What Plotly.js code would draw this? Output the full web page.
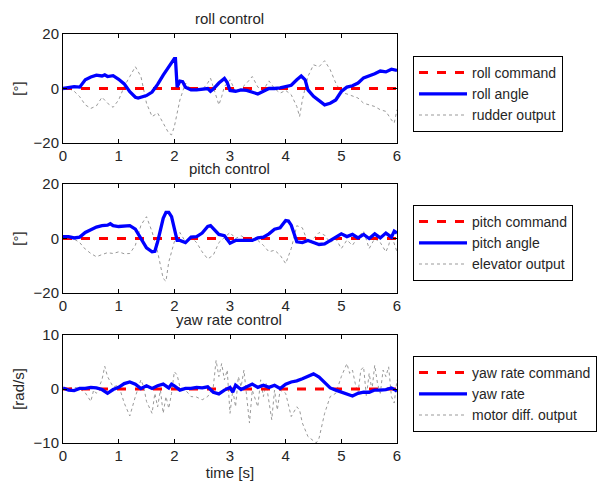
<!DOCTYPE html>
<html><head><meta charset="utf-8">
<script src="https://cdn.plot.ly/plotly-3.0.1.min.js"></script>
<style>html,body{margin:0;padding:0;background:#fff}#chart{width:606px;height:485px}</style>
</head><body><div id="chart"></div>
<script>
// ---- data ----
const xTicks = [0,1,2,3,4,5,6];

const rollCmdX = [0,6];
const rollCmdY = [0,0];
const rollAngleX = [0,0.1,0.2,0.3,0.35,0.4,0.5,0.6,0.7,0.75,0.8,0.9,1.0,1.1,1.2,1.3,1.35,1.4,1.5,1.6,1.7,1.8,1.9,2.0,2.02,2.05,2.1,2.15,2.2,2.3,2.4,2.5,2.6,2.65,2.7,2.8,2.9,2.95,3.0,3.1,3.2,3.3,3.4,3.5,3.6,3.7,3.8,3.9,4.0,4.1,4.2,4.28,4.35,4.4,4.5,4.6,4.7,4.8,4.9,5.0,5.1,5.2,5.3,5.4,5.5,5.6,5.7,5.8,5.9,6.0];
const rollAngleY = [0,0.5,0.7,0.5,2,3.2,4.2,4.9,4.6,5,4.4,4.7,3.4,1.7,-1.2,-3.2,-3.5,-3.2,-2.6,-1.3,1.5,4.9,8,11,11,0.5,2.7,2.5,0.5,-0.5,-0.5,-0.2,0,-1,-0.2,2,3.7,2.2,-0.7,-1,-0.5,-0.7,-1.2,-2,-1,0,0,0.2,0.7,1.2,3.2,4.6,3.2,-0.5,-2.9,-4.4,-6,-5.4,-4.2,-1.1,0.5,1,2,3.9,4.6,5.4,6.4,6.1,7.1,6.6];
const rudderX = [0,0.1,0.2,0.3,0.4,0.5,0.6,0.7,0.8,0.9,1.0,1.1,1.2,1.3,1.4,1.5,1.6,1.7,1.8,1.9,1.95,2.0,2.1,2.2,2.3,2.4,2.5,2.6,2.65,2.7,2.8,2.85,2.9,3.0,3.1,3.2,3.3,3.4,3.5,3.6,3.7,3.8,3.9,4.0,4.1,4.2,4.25,4.3,4.4,4.5,4.6,4.7,4.8,4.9,5.0,5.1,5.2,5.3,5.4,5.5,5.6,5.7,5.8,5.9,5.95,6.0];
const rudderY = [0,0,-1,-3,-6,-7.3,-6.4,-3.2,-5.4,-6.9,-4.2,0.7,4.4,8,4.4,-5.4,-10.3,-9,-12.7,-16.4,-17,-14,-4.2,2,-0.2,0.5,-0.5,2,3.8,0.7,-6,-3,0.7,3.2,-1.1,0,2,4.4,0.5,-0.5,2.8,0,-1.7,-0.7,-2.3,-6.6,-10.3,-4.2,4.4,8.7,8,10.2,6.9,2,-1.5,-2,-2.9,-3.5,-5.4,-6,-6.6,-7.8,-8.4,-11.5,-12.7,-7.8];

const pitchCmdX = [0,6];
const pitchCmdY = [0,0];
const pitchAngleX = [0,0.1,0.2,0.3,0.4,0.5,0.6,0.7,0.8,0.85,0.9,1.0,1.1,1.2,1.3,1.4,1.5,1.6,1.65,1.7,1.8,1.85,1.9,1.95,2.0,2.05,2.1,2.2,2.3,2.4,2.5,2.6,2.65,2.7,2.8,2.9,3.0,3.1,3.2,3.3,3.4,3.5,3.6,3.7,3.8,3.9,4.0,4.05,4.1,4.2,4.3,4.4,4.5,4.6,4.7,4.8,4.9,5.0,5.1,5.2,5.3,5.4,5.5,5.6,5.7,5.8,5.9,5.95,6.0];
const pitchAngleY = [0.7,0.7,0.2,0.5,2.2,3.2,4.2,4.7,4.9,5.4,4.7,4.4,4.4,4.7,3.4,0,-3.4,-4.9,-4.7,-1.2,7.4,9.6,9.6,8,3.9,-0.7,-0.7,-1.5,0.5,0.7,2,4.4,4.7,3.7,1.5,1,-1.7,-0.7,-0.7,-0.5,-0.7,0.2,0.5,1.7,3.4,3.9,6.6,6.4,4.9,-1.2,-1.5,-0.7,-1.5,-2.2,-2,-0.7,0.7,1.7,0.7,1.5,0.2,1.5,0,1.7,0.2,2,0.5,2.7,2];
const elevatorX = [0,0.2,0.3,0.4,0.5,0.6,0.7,0.8,0.9,1.0,1.1,1.2,1.3,1.4,1.5,1.6,1.7,1.8,1.85,1.9,2.0,2.1,2.2,2.3,2.4,2.5,2.6,2.7,2.8,2.9,3.0,3.1,3.2,3.3,3.4,3.5,3.6,3.7,3.8,3.9,4.0,4.1,4.2,4.3,4.4,4.5,4.6,4.7,4.8,4.9,5.0,5.1,5.2,5.3,5.4,5.5,5.6,5.7,5.8,5.85,5.9,6.0];
const elevatorY = [0,-0.2,-1.5,-3.9,-5.5,-6.7,-5.9,-5.2,-5.5,-4.9,-5.6,-5.5,-2.5,4.9,8,2.5,-4.9,-14.7,-15.7,-8.6,-1.2,2.2,-1.2,0.5,-1.5,-4.9,-7.5,-6.1,-1.5,0.5,2.2,0,1,-0.2,-0.2,-0.7,-2.5,-4.9,-4.3,-6.1,-9.2,-3.7,4.7,3.9,-1.5,0,2.2,1.2,-1.5,0,-3.7,-0.6,-2.5,0.6,2.7,-3.7,0,-1.5,-4.9,-2.5,1.2,-4.9];

const yawCmdX = [0,6];
const yawCmdY = [0,0];
const yawRateX = [0,0.1,0.2,0.3,0.4,0.5,0.6,0.7,0.8,0.9,1.0,1.1,1.2,1.3,1.4,1.5,1.6,1.7,1.8,1.9,1.95,2.0,2.1,2.2,2.3,2.4,2.5,2.6,2.7,2.8,2.9,3.0,3.05,3.1,3.2,3.3,3.4,3.5,3.6,3.7,3.8,3.9,4.0,4.1,4.2,4.3,4.4,4.5,4.6,4.7,4.8,4.9,5.0,5.1,5.2,5.3,5.4,5.5,5.6,5.7,5.8,5.9,6.0];
const yawRateY = [0.2,-0.2,-0.3,0.1,0.1,0.3,0.2,-0.1,-0.8,-0.1,0.3,1,1.3,0.9,0.1,0.6,0.1,0.6,0.9,0.2,0.9,0.6,-0.2,0.1,0.1,0.3,0.2,0.4,-0.6,-0.9,-0.2,0.3,-0.6,0.7,-0.1,0.4,0.9,0.3,0.7,0.3,0.7,0.1,0.9,1.3,1.5,1.9,2.4,2.8,2.2,1.2,0.2,-0.2,-0.6,-0.9,-1.3,-0.8,-0.6,-0.6,-0.2,-0.2,-0.1,0.2,-0.4];
const motorX = [0,0.1,0.2,0.3,0.4,0.5,0.55,0.6,0.7,0.75,0.8,0.9,1.0,1.1,1.2,1.3,1.4,1.45,1.5,1.6,1.65,1.7,1.75,1.8,1.85,1.9,1.95,2.0,2.05,2.1,2.2,2.3,2.4,2.5,2.6,2.7,2.75,2.8,2.85,2.9,2.95,3.0,3.05,3.1,3.15,3.2,3.25,3.3,3.35,3.4,3.5,3.55,3.6,3.65,3.7,3.75,3.8,3.85,3.9,4.0,4.1,4.2,4.25,4.3,4.4,4.5,4.55,4.6,4.7,4.8,4.9,5.0,5.05,5.1,5.15,5.2,5.25,5.3,5.35,5.4,5.45,5.5,5.55,5.6,5.65,5.7,5.75,5.8,5.85,5.9,5.95,6.0];
const motorY = [0,0.1,0.3,0.1,-0.7,-2.3,-0.2,-0.8,1.7,4.2,2.3,0.4,0.7,-2.6,-5,-1.4,1.7,0.4,-2.3,-4.5,-0.8,-3.3,-0.2,-4.5,-1.4,-3.6,-0.8,3.2,2.6,0.4,-0.2,-1.4,-1.5,-2,-1.4,0.4,5.3,2.3,4.7,1.7,3.5,-4.5,-0.2,-3.3,2.3,0.4,3.5,-1.4,-6.3,-0.2,-3.3,1.7,-1.4,1.0,-2.6,-5.7,-0.2,-3.9,-0.2,-0.8,-5.1,-3.3,-3.9,-6.3,-8.8,-9.7,-10,-9.1,-4.5,-1.4,-0.8,2.3,3.5,4.7,2.9,3.5,1.0,-0.8,3.5,4.1,-1.4,2.9,-0.2,4.4,1.0,-0.8,3.5,2.3,4.1,-1.4,-2.6,1.7];

const titles = ['roll control','pitch control','yaw rate control'];
const yLabels = ['[°]','[°]','[rad/s]'];
const names = [
  ['roll command','roll angle','rudder output'],
  ['pitch command','pitch angle','elevator output'],
  ['yaw rate command','yaw rate','motor diff. output']
];

// ---- figure ----
const FONT = 'Liberation Sans, Arial, sans-serif';
const TXT = '#262626';
const sets = [
  [[rollCmdX,rollCmdY],[rollAngleX,rollAngleY],[rudderX,rudderY]],
  [[pitchCmdX,pitchCmdY],[pitchAngleX,pitchAngleY],[elevatorX,elevatorY]],
  [[yawCmdX,yawCmdY],[yawRateX,yawRateY],[motorX,motorY]]
];
const styles = [
  {color:'#ff0000', width:3, dash:'dash'},
  {color:'#0000ff', width:3.3, dash:'solid'},
  {color:'#999999', width:1, dash:'dot'}
];
const traces = [];
sets.forEach((s,i)=>{
  const ax = i===0?'':String(i+1);
  const order = [2,0,1];
  order.forEach(j=>{
    traces.push({
      x:s[j][0], y:s[j][1], type:'scatter', mode:'lines',
      name:names[i][j], xaxis:'x'+ax, yaxis:'y'+ax,
      legend: i===0?'legend':'legend'+(i+1),
      legendrank: j+1,
      line:styles[j]
    });
  });
});

const W=606,H=485;
const xd=[63/W, 397/W];
const plots=[[34,143],[184,293],[335,443]];
const yRanges=[[-20,20],[-20,20],[-10,10]];
const yTicks=[[-20,0,20],[-20,0,20],[-10,0,10]];
const legTops=[56,205,356];

const layout = {
  width:W, height:H, margin:{l:0,r:0,t:0,b:0},
  paper_bgcolor:'#fff', plot_bgcolor:'#fff',
  font:{family:FONT, size:15, color:TXT},
  showlegend:true,
  annotations:[]
};
plots.forEach((p,i)=>{
  const ax = i===0?'':String(i+1);
  layout['xaxis'+ax] = {
    domain:xd, anchor:'y'+ax, range:[0,6], tickvals:xTicks,
    showgrid:false, zeroline:false, showline:true, mirror:'ticks',
    linecolor:'#000', linewidth:1, ticks:'inside', ticklen:4, tickcolor:'#000',
    tickfont:{size:15, color:TXT, family:FONT}, ticklabelstandoff:-1,
    title: i===2 ? {text:'time [s]', font:{size:15,color:TXT,family:FONT}, standoff:4} : undefined
  };
  layout['yaxis'+ax] = {
    domain:[1-p[1]/H, 1-p[0]/H], anchor:'x'+ax, range:yRanges[i], tickvals:yTicks[i],
    showgrid:false, zeroline:false, showline:true, mirror:'ticks',
    linecolor:'#000', linewidth:1, ticks:'inside', ticklen:4, tickcolor:'#000',
    tickfont:{size:15, color:TXT, family:FONT},
    title:{text:yLabels[i], font:{size:15,color:TXT,family:FONT}, standoff:5}
  };
  layout.annotations.push({
    text:titles[i], xref:'paper', yref:'paper', x:229/W, y:1-(p[0]-5)/H,
    xanchor:'center', yanchor:'bottom', showarrow:false,
    font:{size:15,color:TXT,family:FONT}
  });
  layout[i===0?'legend':'legend'+(i+1)] = {
    x:413/W, y:1-legTops[i]/H, xanchor:'left', yanchor:'top',
    bgcolor:'#fff', bordercolor:'#000', borderwidth:1,
    font:{size:14,color:TXT,family:FONT}, traceorder:'normal',
    itemwidth:48, tracegroupgap:0
  };
});

Plotly.newPlot('chart', traces, layout, {displayModeBar:false, staticPlot:true});
</script>
</body></html>
